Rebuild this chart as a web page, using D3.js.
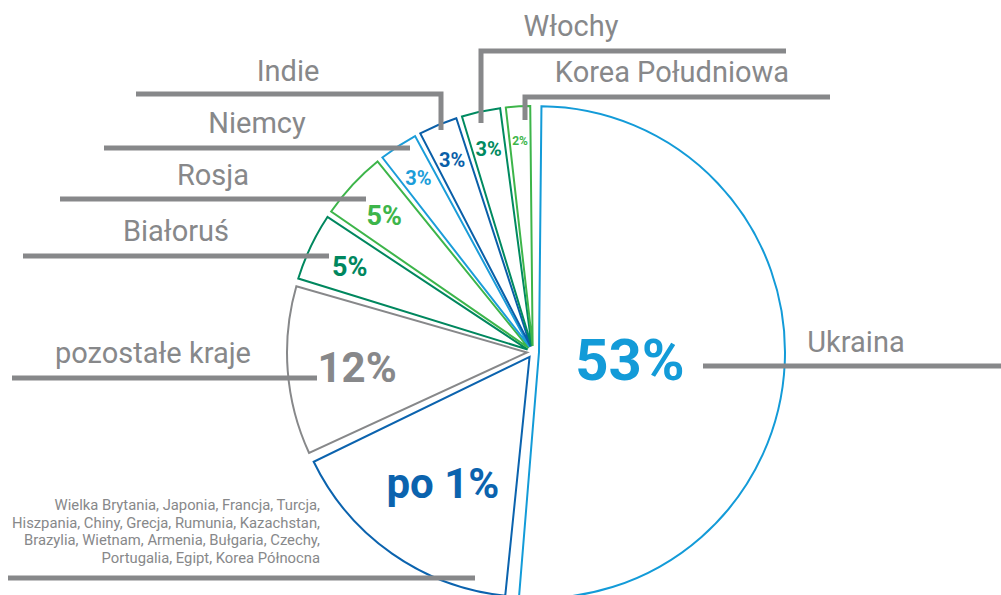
<!DOCTYPE html>
<html>
<head>
<meta charset="utf-8">
<script src="https://cdn.jsdelivr.net/npm/d3@7"></script>
<style>
  body { margin: 0; background: #fff; }
  svg { display: block; font-family: Roboto, "Open Sans", sans-serif; }
</style>
</head>
<body>
<div id="chart"></div>
<script>
// data
var countries = ["Ukraina", "po 1%", "pozostałe kraje", "Białoruś", "Rosja", "Niemcy", "Indie", "Włochy", "Korea Południowa"];
var shares = [53, 17, 12, 5, 5, 3, 3, 3, 2];
var shareLabels = ["53%", "po 1%", "12%", "5%", "5%", "3%", "3%", "3%", "2%"];
var onePercentCountries = [
  "Wielka Brytania, Japonia, Francja, Turcja,",
  "Hiszpania, Chiny, Grecja, Rumunia, Kazachstan,",
  "Brazylia, Wietnam, Armenia, Bułgaria, Czechy,",
  "Portugalia, Egipt, Korea Północna"
];

var sliceColors = ["#139bd8", "#0b63ae", "#87888a", "#00875e", "#3db54a", "#1b9dd9", "#0a5fa8", "#008a60", "#3db54a"];
var grey = "#87888a";

var width = 1001, height = 595,
    cx = 533, cy = 352, R = 240, explode = 6;

var svg = d3.select("#chart").append("svg")
    .attr("width", width)
    .attr("height", height);

var data = countries.map(function (c, i) {
  return { name: c, value: shares[i], label: shareLabels[i], color: sliceColors[i] };
});

var pie = d3.pie().sort(null).value(function (d) { return d.value; });
var arcs = pie(data);
var maxShare = d3.max(shares);

function radius(d) { return d.data.value === maxShare ? R + 6 : R; }

// gaps are cut inside each slice, the angles stay proportional
var arc = d3.arc()
    .innerRadius(0)
    .outerRadius(radius)
    .padAngle(0.02);

// label distance from the tip, as a share of radius (bigger slice -> closer in)
var labelPos = d3.scaleLinear().domain([2, 5, 12, 17, 53]).range([0.86, 0.82, 0.71, 0.63, 0.37]);
var fontSize = d3.scaleLinear().domain([2, 3, 5, 12, 17, 53]).range([12, 20, 27, 42, 42, 58]);

function mid(d) { return (d.startAngle + d.endAngle) / 2; }
function tip(d) {
  var a = mid(d);
  return [cx + explode * Math.sin(a), cy - explode * Math.cos(a)];
}

// leader lines and names
var callouts = [
  { name: "Indie", x: 288, y: 81, line: [[136, 94], [441, 94], [441, 130]] },
  { name: "Niemcy", x: 257, y: 133, line: [[104, 148], [410, 148]] },
  { name: "Rosja", x: 213, y: 185, line: [[60, 199], [366, 199]] },
  { name: "Białoruś", x: 176, y: 241, line: [[23, 256], [329, 256]] },
  { name: "pozostałe kraje", x: 153, y: 363, line: [[12, 378], [317, 378]] },
  { name: "Włochy", x: 571, y: 36, line: [[481, 123], [481, 51], [786, 51]] },
  { name: "Korea Południowa", x: 672, y: 82, line: [[525, 120], [525, 97], [830, 97]] },
  { name: "Ukraina", x: 856, y: 352, line: [[703, 366], [1001, 366]] },
  { name: "po 1%", line: [[8, 578], [475, 578]] }
];

// slices
var g = svg.selectAll("g.slice")
    .data(arcs)
    .enter()
    .append("g")
    .attr("class", "slice")
    .attr("transform", function (d) { return "translate(" + tip(d) + ")"; });

g.append("path")
    .attr("d", arc)
    .attr("fill", "#fff")
    .attr("stroke", function (d) { return d.data.color; })
    .attr("stroke-width", 2)
    .attr("stroke-linejoin", "miter");

svg.append("g").selectAll("path")
    .data(callouts)
    .enter()
    .append("path")
    .attr("d", function (d) { return d3.line()(d.line); })
    .attr("fill", "none")
    .attr("stroke", grey)
    .attr("stroke-width", 5)
    .attr("stroke-linejoin", "miter");

svg.append("g").selectAll("text")
    .data(callouts.filter(function (d) { return d.x; }))
    .enter()
    .append("text")
    .attr("x", function (d) { return d.x; })
    .attr("y", function (d) { return d.y; })
    .attr("text-anchor", "middle")
    .attr("font-size", "29px")
    .attr("fill", grey)
    .text(function (d) { return d.name; });

// percentages inside slices
g.append("text")
    .attr("x", function (d) { return radius(d) * labelPos(d.data.value) * Math.sin(mid(d)); })
    .attr("y", function (d) { return -radius(d) * labelPos(d.data.value) * Math.cos(mid(d)); })
    .attr("dy", "0.4em")
    .attr("text-anchor", "middle")
    .attr("font-weight", "bold")
    .attr("font-size", function (d) { return fontSize(d.data.value) + "px"; })
    .attr("fill", function (d) { return d.data.color; })
    .text(function (d) { return d.data.label; });

// list of the 1% countries
svg.append("text")
    .attr("text-anchor", "end")
    .attr("font-size", "14.8px")
    .attr("fill", grey)
    .selectAll("tspan")
    .data(onePercentCountries)
    .enter()
    .append("tspan")
    .attr("x", 320)
    .attr("y", function (d, i) { return 510 + i * 17.7; })
    .text(function (d) { return d; });
</script>
</body>
</html>
